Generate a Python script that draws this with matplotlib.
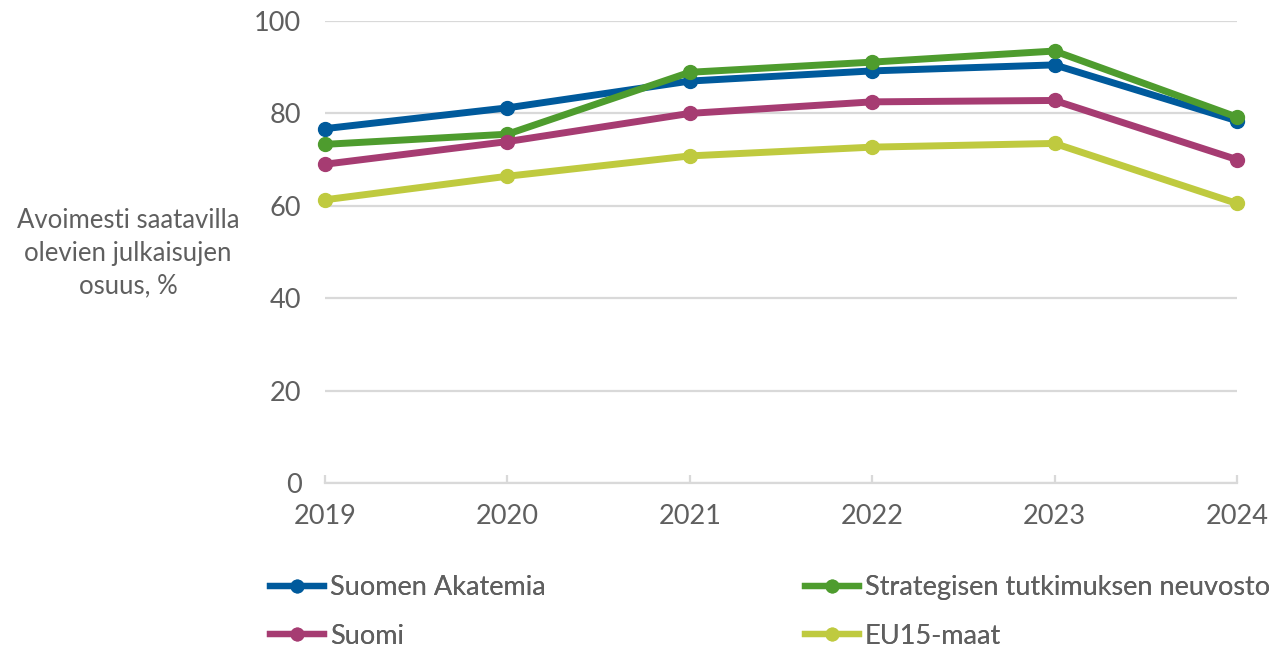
import numpy as np
import matplotlib.pyplot as plt
from matplotlib.lines import Line2D

plt.rcParams['font.family'] = ['Lato', 'DejaVu Sans']

years = [2019, 2020, 2021, 2022, 2023, 2024]
akatemia = [76.7, 81.2, 87.0, 89.2, 90.5, 78.4]
strateginen = [73.3, 75.5, 88.9, 91.1, 93.5, 79.2]
suomi = [69.0, 73.9, 80.0, 82.5, 82.8, 70.0]
eu15 = [61.3, 66.4, 70.8, 72.7, 73.5, 60.5]

labels = ["Suomen Akatemia", "Strategisen tutkimuksen neuvosto", "Suomi", "EU15-maat"]
colors = ["#005a9c", "#4e9c2e", "#a63c72", "#bfca3f"]
text_color = "#5f5f5f"
grid_color = "#d9d9d9"

fig = plt.figure(figsize=(12.86, 6.52), dpi=100)
ax = fig.add_axes([325/1286, 1 - 483/652, 912/1286, 462/652])

series = [akatemia, strateginen, suomi, eu15]
for vals, col in zip(series, colors):
    ax.plot(years, vals, color=col, lw=5, marker='o', markersize=10,
            solid_joinstyle='round', clip_on=False)

ax.set_xlim(2019, 2024)
ax.set_ylim(0, 100)
ax.set_xticks(years)
ax.set_yticks(np.arange(0, 101, 20))
ax.yaxis.grid(True, color=grid_color, lw=1.6)
ax.set_axisbelow(True)
for s in ['top', 'right', 'left']:
    ax.spines[s].set_visible(False)
ax.spines['bottom'].set_color(grid_color)
ax.spines['bottom'].set_linewidth(1.6)
ax.tick_params(axis='x', direction='in', length=6, width=1.6, color=grid_color,
               labelsize=19.5, labelcolor=text_color, pad=15)
ax.tick_params(axis='y', length=0, labelsize=19.5, labelcolor=text_color, pad=17)

fig.text(128/1286, 1 - 253/652, "Avoimesti saatavilla\nolevien julkaisujen\nosuus, %",
         ha='center', va='center', multialignment='center', fontsize=18.5,
         color=text_color, linespacing=1.4)

# two legend columns placed separately
leg_kw = dict(loc='upper left', frameon=False, fontsize=19.5, labelcolor=text_color,
              handlelength=2.0, handletextpad=0.2, labelspacing=0.88,
              borderaxespad=0, borderpad=0)
for col_idx, x0 in [((0, 2), 270), ((1, 3), 805)]:
    hs = [Line2D([], [], color=colors[i], lw=4.5, marker='o', markersize=9) for i in col_idx]
    leg = fig.legend(hs, [labels[i] for i in col_idx],
                     bbox_to_anchor=(x0/1286, 1 - 575/652), **leg_kw)
    fig.add_artist(leg)

fig.savefig("out.png", dpi=100)
